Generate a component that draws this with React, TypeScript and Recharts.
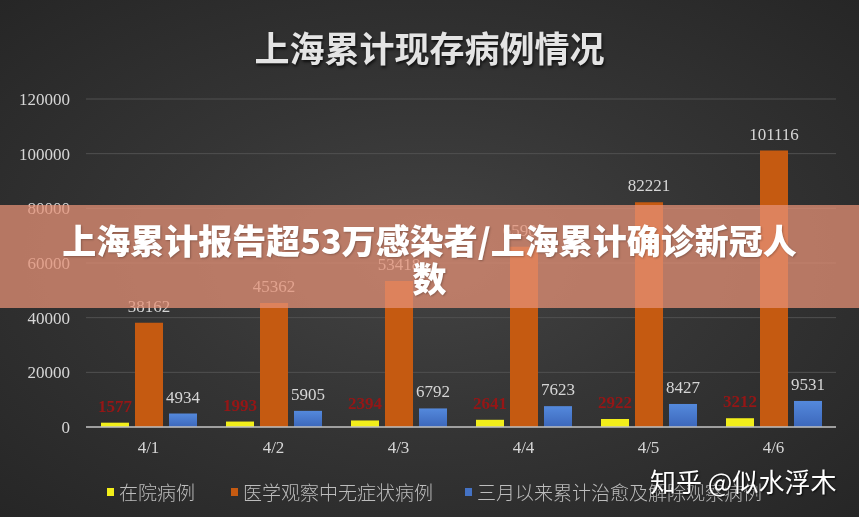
import React from 'react';
import { BarChart, Bar, XAxis, YAxis, CartesianGrid, LabelList } from 'recharts';

// dates on the x axis
const categories = ['4/1', '4/2', '4/3', '4/4', '4/5', '4/6'];
// 在院病例
const inHospital = [1577, 1993, 2394, 2641, 2922, 3212];
// 医学观察中无症状病例
const asymptomatic = [38162, 45362, 53418, 65907, 82221, 101116];
// 三月以来累计治愈及解除观察病例
const recovered = [4934, 5905, 6792, 7623, 8427, 9531];
const yTicks = [0, 20000, 40000, 60000, 80000, 100000, 120000];

const seriesNames = ['在院病例', '医学观察中无症状病例', '三月以来累计治愈及解除观察病例'];

const data = categories.map((c, i) => ({
  name: c,
  a: inHospital[i],
  b: asymptomatic[i],
  c: recovered[i],
}));

const serif = '"Liberation Serif", "DejaVu Serif", serif';
const cjk = '"Noto Sans CJK SC", "Noto Sans", sans-serif';

const legendItems = [
  { name: seriesNames[0], color: '#f2ee1a', left: 107 },
  { name: seriesNames[1], color: '#c55a11', left: 231 },
  { name: seriesNames[2], color: '#4472c4', left: 465 },
];

function LegendRow() {
  return (
    <div style={{ position: 'absolute', left: 0, top: 478, width: 859, height: 24 }}>
      {legendItems.map((it) => (
        <div
          key={it.name}
          style={{
            position: 'absolute',
            left: it.left,
            top: 0,
            display: 'flex',
            alignItems: 'center',
            fontFamily: cjk,
            fontWeight: 300,
            fontSize: 19,
            color: '#bdbdbd',
            whiteSpace: 'nowrap',
          }}
        >
          <span style={{ display: 'inline-block', width: 7, height: 8, background: it.color, marginRight: 5 }} />
          {it.name}
        </div>
      ))}
    </div>
  );
}

export default function App() {
  return (
    <div
      style={{
        position: 'fixed',
        left: 0,
        top: 0,
        width: 859,
        height: 517,
        overflow: 'hidden',
        background: 'radial-gradient(ellipse at 50% 50%, #434343 0%, #353535 45%, #262626 100%)',
      }}
    >
      <div
        style={{
          position: 'absolute',
          left: 0,
          top: 25,
          width: 859,
          textAlign: 'center',
          fontFamily: cjk,
          fontWeight: 700,
          fontSize: 35,
          color: '#e4e4e4',
          textShadow: '1px 2px 3px rgba(0,0,0,0.7)',
          lineHeight: '44px',
        }}
      >
        上海累计现存病例情况
      </div>

      <BarChart
        width={859}
        height={517}
        data={data}
        margin={{ top: 99, right: 23, bottom: 60, left: 10 }}
        barSize={28}
        barGap={6}
        barCategoryGap={14}
      >
        <defs>
          <linearGradient id="blueFill" x1="0" y1="0" x2="0" y2="1">
            <stop offset="0%" stopColor="#5489dc" />
            <stop offset="100%" stopColor="#3c67bb" />
          </linearGradient>
        </defs>
        <CartesianGrid vertical={false} stroke="#515151" strokeWidth={1} />
        <XAxis
          dataKey="name"
          height={30}
          axisLine={{ stroke: '#bfbfbf', strokeWidth: 1.5 }}
          tickLine={false}
          tickMargin={8}
          tick={{ fill: '#d6d6d6', fontSize: 17, fontFamily: serif }}
        />
        <YAxis
          width={76}
          domain={[0, 120000]}
          ticks={yTicks}
          axisLine={false}
          tickLine={false}
          tickMargin={10}
          interval={0}
          tick={{ fill: '#d6d6d6', fontSize: 17, fontFamily: serif }}
        />
        <Bar dataKey="a" name={seriesNames[0]} fill="#f2ee1a" isAnimationActive={false}>
          <LabelList
            dataKey="a"
            position="top"
            offset={11}
            fill="#951616"
            fontSize={17}
            fontWeight="bold"
            fontFamily={serif}
          />
        </Bar>
        <Bar dataKey="b" name={seriesNames[1]} fill="#c55a11" isAnimationActive={false}>
          <LabelList dataKey="b" position="top" offset={11} fill="#d6d6d6" fontSize={17} fontFamily={serif} />
        </Bar>
        <Bar dataKey="c" name={seriesNames[2]} fill="url(#blueFill)" isAnimationActive={false}>
          <LabelList dataKey="c" position="top" offset={11} fill="#d6d6d6" fontSize={17} fontFamily={serif} />
        </Bar>
      </BarChart>

      <LegendRow />

      {/* overlay banner */}
      <div
        style={{
          position: 'absolute',
          left: 0,
          top: 205,
          width: 859,
          height: 103,
          background: 'rgba(228,144,117,0.75)',
        }}
      />
      <div
        style={{
          position: 'absolute',
          left: 57,
          top: 221,
          width: 745,
          textAlign: 'center',
          fontFamily: cjk,
          fontWeight: 900,
          fontSize: 34,
          lineHeight: '38px',
          color: '#ffffff',
          textShadow: '1px 1px 2px rgba(0,0,0,0.25)',
        }}
      >
        上海累计报告超53万感染者/上海累计确诊新冠人数
      </div>

      {/* watermark */}
      <div
        style={{
          position: 'absolute',
          left: 650,
          top: 462,
          fontFamily: cjk,
          fontSize: 26,
          color: '#ffffff',
          textShadow: '1px 1px 2px rgba(0,0,0,0.8)',
          whiteSpace: 'nowrap',
        }}
      >
        知乎 @似水浮木
      </div>
    </div>
  );
}
